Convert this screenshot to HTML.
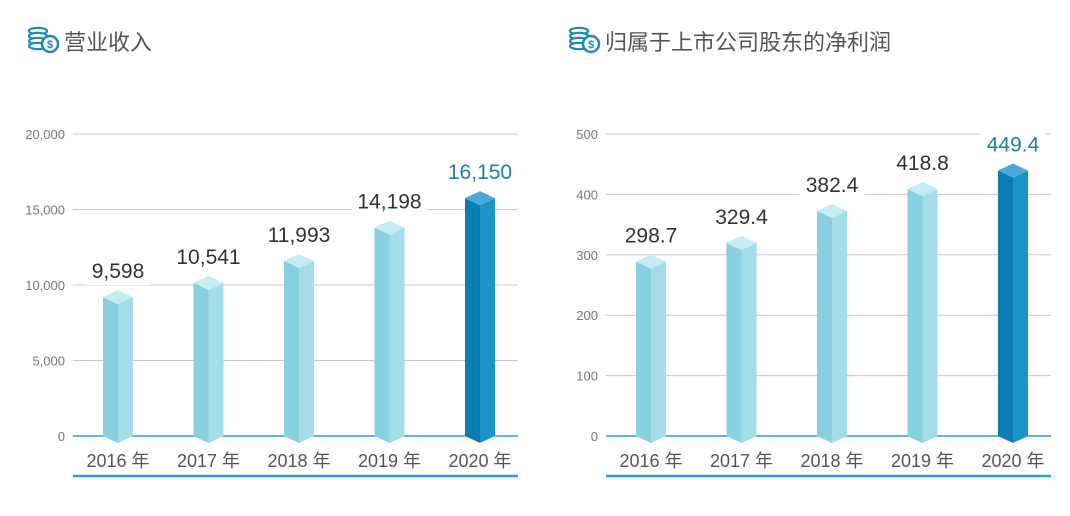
<!DOCTYPE html>
<html><head><meta charset="utf-8"><style>
body{margin:0;background:#fff;width:1070px;height:511px;overflow:hidden}
svg{font-family:"Liberation Sans","Noto Sans CJK SC",sans-serif}
</style></head><body>
<svg id="s" width="1070" height="511"></svg>
<script>
const categories=["2016 年","2017 年","2018 年","2019 年","2020 年"];
const revenueValues=[9598,10541,11993,14198,16150];
const revenueLabels=["9,598","10,541","11,993","14,198","16,150"];
const revenueTicks=[0,5000,10000,15000,20000];
const revenueTickLabels=["0","5,000","10,000","15,000","20,000"];
const profitValues=[298.7,329.4,382.4,418.8,449.4];
const profitLabels=["298.7","329.4","382.4","418.8","449.4"];
const profitTicks=[0,100,200,300,400,500];
const profitTickLabels=["0","100","200","300","400","500"];
const NS="http://www.w3.org/2000/svg";
const s=document.getElementById('s');
function mk(t,a,p){const e=document.createElementNS(NS,t);for(const k in a)e.setAttribute(k,a[k]);(p||s).appendChild(e);return e;}
function chart(o){
  const g=mk('g',{});
  
  
  const y0=436,y1=134,max=o.ticks[o.ticks.length-1];
  const Y=v=>y0-v/max*(y0-y1);
  const X=i=>o.x0+45+i*90.5;
  const ic=mk('g',{},g);
  
  
  for(let k=0;k<4;k++)mk('ellipse',{cx:o.tx+9,cy:31+k*5,rx:9,ry:3.2,fill:'#fff',stroke:'#1e88b8','stroke-width':2.2},ic);
  mk('circle',{cx:o.tx+21,cy:44,r:8,fill:'#fff',stroke:'#1e88b8','stroke-width':2.5},ic);
  const dl=mk('text',{x:o.tx+21,y:48,'font-size':11,'font-weight':'bold',fill:'#1e88b8','text-anchor':'middle'},ic);dl.textContent='$';
  const t=mk('text',{x:o.tx+35,y:50,'font-size':22,fill:'#555'},g);t.textContent=o.title;
  
  o.ticks.forEach((v,i)=>{
    const y=Y(v);
    const l=mk('line',{x1:o.x0,x2:o.x0+445,y1:y,y2:y,stroke:i==0?'#2a9fd0':'#c8c8c8','stroke-width':i==0?1.5:1},g);
    
    const tl=mk('text',{x:o.x0-8,y:y+5,'font-size':13,fill:'#777','text-anchor':'end'},g);tl.textContent=o.tickLabels[i];
    
  });
  const bl=mk('line',{x1:o.x0,x2:o.x0+445,y1:476,y2:476,stroke:'#2a9fd0','stroke-width':2.5},g);
  
  o.values.forEach((v,i)=>{
    const cx=X(i),yt=Y(v)+6,w=15,d=7,hl=i==o.values.length-1;
    const c=hl?['#0a7db5','#1a93c9','#4aa9d8','#1d7ea8']:['#86d0df','#a3dde8','#c6ecf3','#333'];
    const b=mk('g',{},g);
    
    mk('polygon',{points:`${cx-w},${yt} ${cx},${yt+d} ${cx},${y0+d} ${cx-w},${y0}`,fill:c[0]},b);
    mk('polygon',{points:`${cx},${yt+d} ${cx+w},${yt} ${cx+w},${y0} ${cx},${y0+d}`,fill:c[1]},b);
    mk('polygon',{points:`${cx-w},${yt} ${cx},${yt-d} ${cx+w},${yt} ${cx},${yt+d}`,fill:c[2]},b);
    const lw=o.labels[i].length*11+10;
    mk('rect',{x:cx-lw/2,y:yt-40,width:lw,height:28,fill:'#fff'},b);
    const vl=mk('text',{x:cx,y:yt-19,'font-size':21,fill:c[3],'text-anchor':'middle'},b);vl.textContent=o.labels[i];
    
    const xl=mk('text',{x:cx,y:467,'font-size':18,fill:'#555','text-anchor':'middle'},g);xl.textContent=categories[i];
    
  });
}
chart({name:'revenue-chart',title:'营业收入',tx:29,x0:73,values:revenueValues,labels:revenueLabels,ticks:revenueTicks,tickLabels:revenueTickLabels});
chart({name:'net-profit-chart',title:'归属于上市公司股东的净利润',tx:570,x0:606,values:profitValues,labels:profitLabels,ticks:profitTicks,tickLabels:profitTickLabels});
</script>
</body></html>
